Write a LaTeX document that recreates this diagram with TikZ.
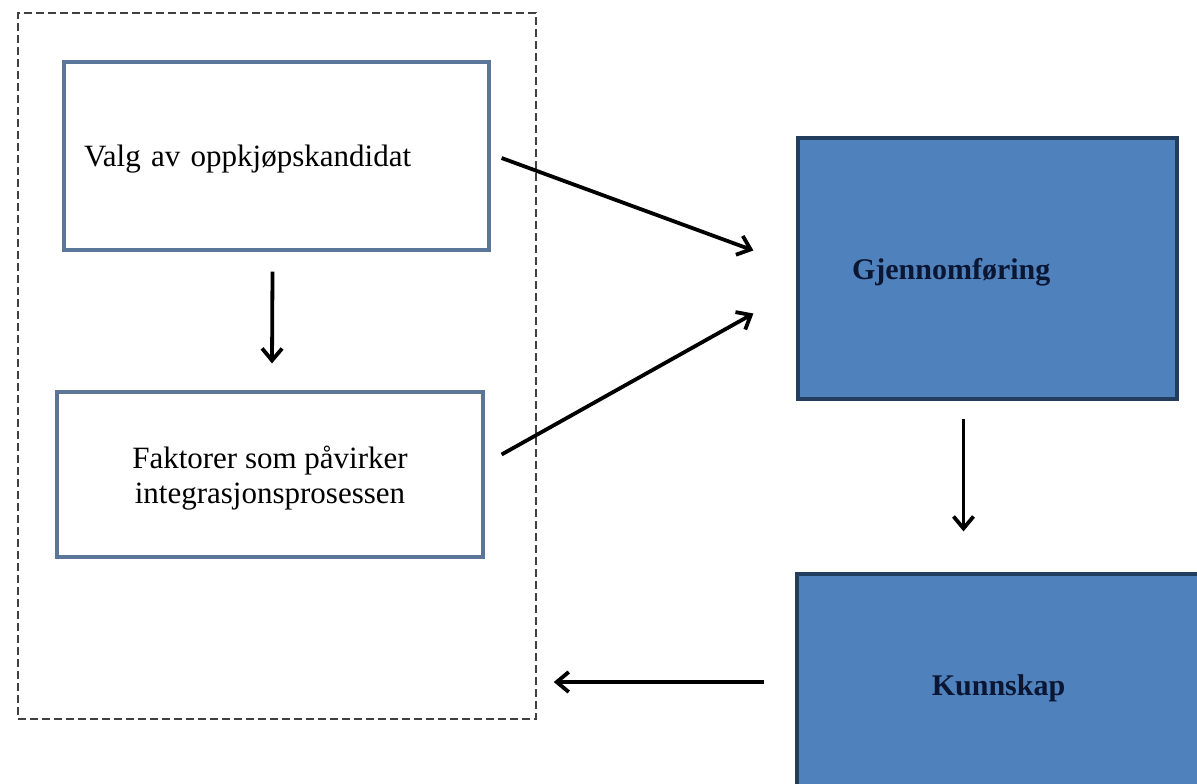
\documentclass[tikz,border=0pt]{standalone}
\usepackage{fontspec}
\setmainfont{Liberation Serif}
\usepackage{tikz}
\usetikzlibrary{calc,positioning,arrows.meta}
\definecolor{frameblue}{HTML}{5B7698}
\definecolor{fillblue}{HTML}{4F81BD}
\definecolor{darknavy}{HTML}{233D5E}
\definecolor{textnavy}{HTML}{0A1632}
\definecolor{dashgray}{HTML}{404040}

\begin{document}
\begin{tikzpicture}[x=0.5pt, y=-0.5pt, >={Straight Barb[length=6pt,width=10pt]},
    box/.style={rectangle, draw=frameblue, line width=1.6pt, fill=white, text depth=0pt, font=\fontsize{15.5}{17.5}\selectfont},
    fillbox/.style={rectangle, draw=darknavy, line width=1.6pt, fill=fillblue, text=textnavy, text depth=0pt, font=\fontsize{15}{18}\selectfont\bfseries},
    grpbox/.style={rectangle, draw=dashgray, line width=0.75pt, dash pattern=on 4pt off 2pt},
    arr/.style={->, line width=1.9pt}]
            \useasboundingbox (0,0) rectangle (1197,783);
            \node[grpbox, minimum width=259pt, minimum height=353pt] (grp) at (277,366) {};
            \node[box, minimum height=94pt, inner xsep=10pt, text width=192.5pt, align=left] (valg) at (276.5,156) {Valg av oppkjøpskandidat};
            \node[box, minimum width=213pt, minimum height=82.5pt, align=center] (fakt) at (270,474.5) {Faktorer som påvirker\\integrasjonsprosessen};
            \node[fillbox, minimum height=130.5pt, inner xsep=27pt, text width=135.5pt, align=left] (gjenn) at (987.5,268.5) {Gjennomføring};
            \node[fillbox, minimum width=201.5pt, minimum height=111pt] (kunn) at (998.5,685) {Kunnskap};
            \draw[arr] ($(valg.east)+(11,2)$) -- ($(gjenn.west)+(-43,-18)$);
            \draw[arr] ($(fakt.east)+(17,-20)$) -- ($(gjenn.west)+(-43,45)$);
            \draw[arr] ($(valg.south)+(-4,20)$) -- ($(fakt.north)+(2,-27)$);
            \draw[arr] ($(gjenn.south)+(-24,18)$) -- ($(kunn.north)+(-35,-41)$);
            \draw[arr] ($(kunn.west)+(-31,-3)$) -- ($(kunn.west -| grp.east)+(17,-3)$);
        \end{tikzpicture}
\end{document}
